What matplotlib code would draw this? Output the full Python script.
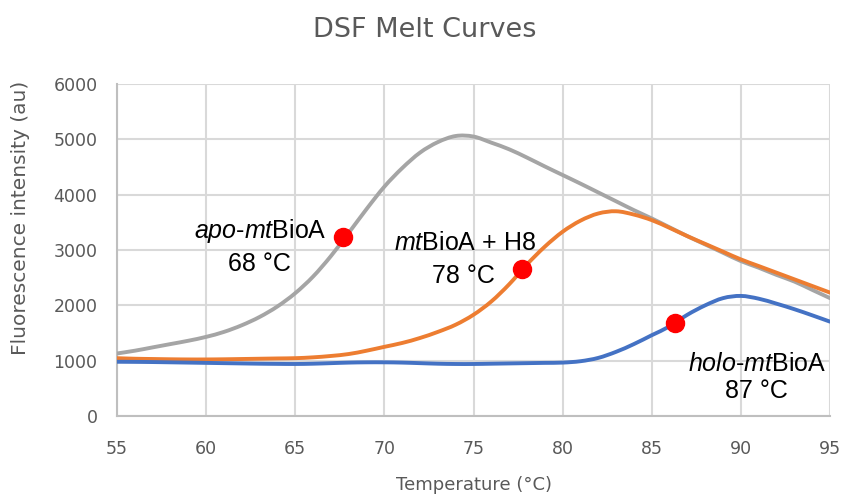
import matplotlib
matplotlib.use("Agg")
import matplotlib.pyplot as plt
from matplotlib.path import Path
from matplotlib.patches import PathPatch
import numpy as np

# Temperature grid (°C)
temperature = list(range(55, 96))

# Fluorescence (au) per construct
apo_mtbioa = [1130, 1180, 1240, 1300, 1360, 1430, 1520, 1640, 1790, 1980,
              2220, 2520, 2890, 3310, 3740, 4145, 4480, 4760, 4950, 5060,
              5050, 4940, 4820, 4670, 4510, 4355, 4200, 4040, 3880, 3720,
              3570, 3410, 3250, 3100, 2950, 2800, 2680, 2550, 2430, 2280,
              2130]
mtbioa_h8 = [1045, 1035, 1030, 1025, 1022, 1022, 1025, 1030, 1035, 1040,
             1045, 1060, 1085, 1120, 1180, 1250, 1320, 1410, 1520, 1650,
             1830, 2070, 2380, 2740, 3060, 3330, 3530, 3660, 3700, 3640,
             3540, 3400, 3250, 3110, 2970, 2830, 2710, 2590, 2470, 2350,
             2230]
holo_mtbioa = [980, 978, 975, 970, 965, 960, 955, 950, 945, 942,
               940, 945, 955, 965, 970, 970, 965, 955, 945, 940,
               940, 945, 950, 955, 960, 965, 990, 1050, 1160, 1300,
               1460, 1620, 1830, 2000, 2130, 2170, 2120, 2030, 1930, 1820,
               1705]

# Melting-point markers (temperature, fluorescence)
tm_x = [67.7, 77.7, 86.3]
tm_y = [3230, 2650, 1680]

x_ticks = [55, 60, 65, 70, 75, 80, 85, 90, 95]
y_ticks = [0, 1000, 2000, 3000, 4000, 5000, 6000]

plt.rcParams["mathtext.fontset"] = "custom"
plt.rcParams["mathtext.rm"] = "Liberation Sans"
plt.rcParams["mathtext.it"] = "Liberation Sans:italic"


def smooth_line(ax, xs, ys, color, lw, zorder):
    """Draw a smoothed line through the points as cubic Bezier segments
    (Catmull-Rom tangents), in data coordinates."""
    p = np.column_stack([xs, ys]).astype(float)
    ext = np.vstack([p[0], p, p[-1]])
    verts = [tuple(p[0])]
    codes = [Path.MOVETO]
    for i in range(len(p) - 1):
        p0, p1, p2, p3 = ext[i], ext[i + 1], ext[i + 2], ext[i + 3]
        c1 = p1 + (p2 - p0) / 6.0
        c2 = p2 - (p3 - p1) / 6.0
        verts += [tuple(c1), tuple(c2), tuple(p2)]
        codes += [Path.CURVE4] * 3
    patch = PathPatch(Path(verts, codes), facecolor="none", edgecolor=color,
                      linewidth=lw, capstyle="round", joinstyle="round",
                      zorder=zorder, transform=ax.transData)
    ax.add_patch(patch)


W, H = 842, 494
fig = plt.figure(figsize=(W / 100, H / 100), dpi=100)
ax = fig.add_axes([117 / W, 1 - 416 / H, (830 - 117) / W, (416 - 84) / H])

grey_txt = "#595959"
ax.set_xlim(55, 95)
ax.set_ylim(0, 6000)
ax.set_xticks(x_ticks)
ax.set_yticks(y_ticks)
ax.grid(True, color="#d9d9d9", linewidth=1.5)
ax.set_axisbelow(True)
for side in ["top", "right"]:
    ax.spines[side].set_visible(False)
for side in ["left", "bottom"]:
    ax.spines[side].set_color("#bfbfbf")
    ax.spines[side].set_linewidth(1.5)
ax.tick_params(axis="both", length=0, colors=grey_txt, labelsize=12.5)
ax.tick_params(axis="y", pad=14)
ax.tick_params(axis="x", pad=17)
for lab in ax.get_xticklabels() + ax.get_yticklabels():
    lab.set_family("DejaVu Sans")

smooth_line(ax, temperature, apo_mtbioa, "#A5A5A5", 2.8, 3)
smooth_line(ax, temperature, mtbioa_h8, "#ED7D31", 2.8, 4)
smooth_line(ax, temperature, holo_mtbioa, "#4472C4", 2.8, 4)
ax.plot(tm_x, tm_y, linestyle="none", marker="o", markersize=13,
        color="#FF0000", zorder=5, clip_on=False)

lab_kw = dict(ha="center", va="baseline", fontsize=18, color="black",
              family="Liberation Sans", zorder=6)
ax.text(63.05, 3213, r"$\mathit{apo}$-$\mathit{mt}$BioA", **lab_kw)
ax.text(63.0, 2628, "68 °C", **lab_kw)
ax.text(74.5, 3002, r"$\mathit{mt}$BioA + H8", **lab_kw)
ax.text(74.45, 2411, "78 °C", **lab_kw)
ax.text(90.88, 819, r"$\mathit{holo}$-$\mathit{mt}$BioA", **lab_kw)
ax.text(90.86, 320, "87 °C", **lab_kw)

fig.text(425 / W, 1 - 36.7 / H, "DSF Melt Curves", ha="center", va="baseline",
         fontsize=19.5, color=grey_txt, family="DejaVu Sans")
fig.text(474 / W, 1 - 490 / H, "Temperature (°C)", ha="center", va="baseline",
         fontsize=13, color=grey_txt, family="DejaVu Sans")
fig.text(21 / W, 1 - 218 / H, "Fluorescence intensity (au)", ha="center",
         va="center", rotation=90, fontsize=14.5, color=grey_txt,
         family="DejaVu Sans")

fig.savefig("out.png", dpi=100, facecolor="white")
